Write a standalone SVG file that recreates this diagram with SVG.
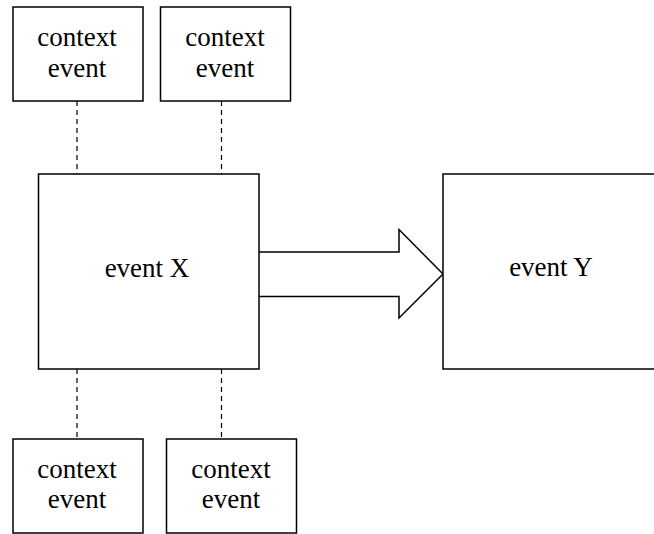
<svg xmlns="http://www.w3.org/2000/svg" width="654" height="534" viewBox="0 0 654 534">
  <style>
    .box { fill: #ffffff; stroke: #000000; stroke-width: 1.5; }
    .link { stroke: #000000; stroke-width: 1.2; stroke-dasharray: 5 4; fill: none; }
    .flow { fill: #ffffff; stroke: #000000; stroke-width: 1.5; stroke-linejoin: miter; }
    .label { font-size: 27px; fill: #000000; text-anchor: middle; }
  </style>
  <rect x="0" y="0" width="654" height="534" fill="#ffffff"/>

  <!-- dashed links between context events and event X -->
  <g id="connectors">
    <line class="link" x1="77" y1="101" x2="77" y2="174"/>
    <line class="link" x1="221.5" y1="101" x2="221.5" y2="174"/>
    <line class="link" x1="77" y1="369" x2="77" y2="439"/>
    <line class="link" x1="221.5" y1="369" x2="221.5" y2="439"/>
    <!-- block arrow from event X to event Y -->
    <path class="flow" d="M259,252 H399 V229.5 L443,274 L399,318 V296.5 H259"/>
  </g>

  <g font-family="'Liberation Serif', 'DejaVu Serif', 'Times New Roman', serif">
    <g id="ctx-top-left">
      <rect class="box" x="13" y="7" width="130" height="94"/>
      <text class="label" x="77" y="46">context</text>
      <text class="label" x="77" y="77">event</text>
    </g>

    <g id="ctx-top-right">
      <rect class="box" x="160.5" y="7" width="130" height="94"/>
      <text class="label" x="225" y="46">context</text>
      <text class="label" x="225" y="77">event</text>
    </g>

    <g id="event-x">
      <rect class="box" x="38.5" y="174" width="220.5" height="195"/>
      <text class="label" x="147" y="277">event X</text>
    </g>

    <g id="event-y">
      <rect class="box" x="443" y="174" width="230" height="195"/>
      <text class="label" x="551" y="276">event Y</text>
    </g>

    <g id="ctx-bottom-left">
      <rect class="box" x="13" y="439" width="130" height="94"/>
      <text class="label" x="77" y="478">context</text>
      <text class="label" x="77" y="508">event</text>
    </g>

    <g id="ctx-bottom-right">
      <rect class="box" x="166.5" y="439" width="130" height="94"/>
      <text class="label" x="231" y="478">context</text>
      <text class="label" x="231" y="508">event</text>
    </g>
  </g>
</svg>
